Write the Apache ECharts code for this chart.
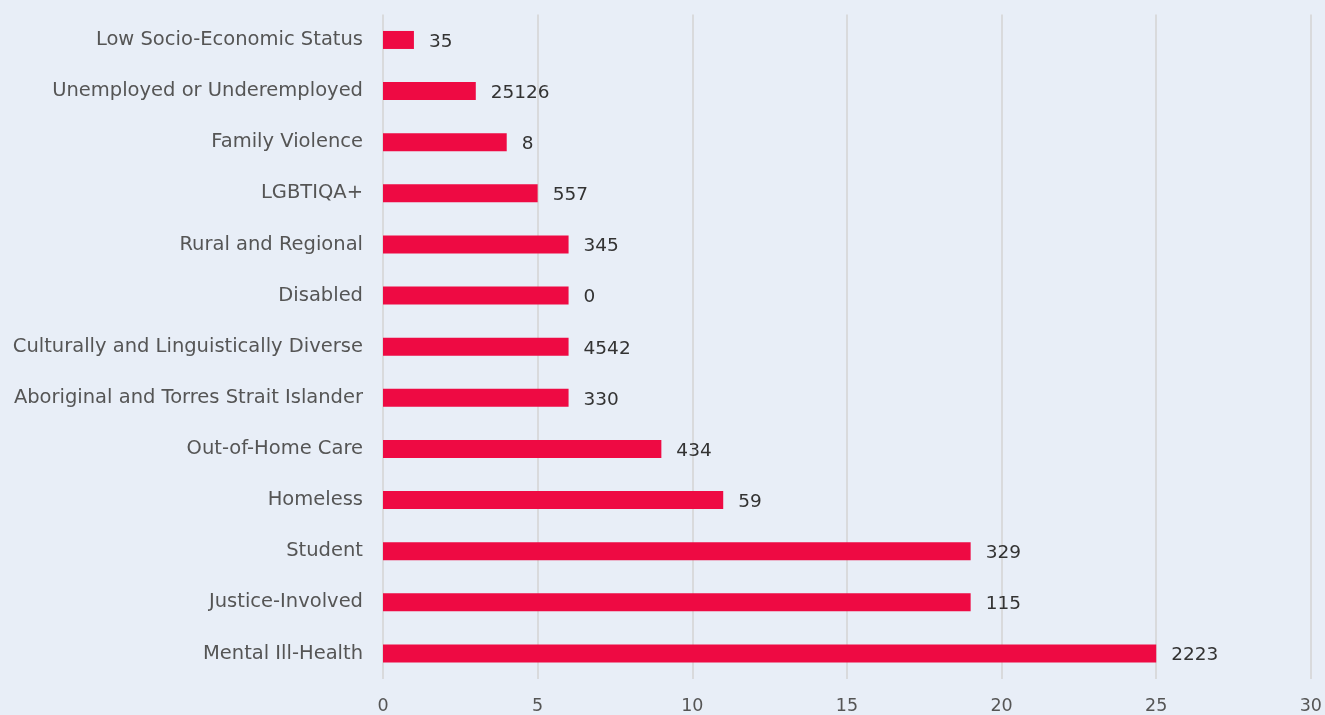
<!DOCTYPE html>
<html><head><meta charset="utf-8">
<script src="https://cdn.jsdelivr.net/npm/echarts@6/dist/echarts.min.js"></script>
<style>html,body{margin:0;padding:0;background:#e8eef7;}#c{width:1325px;height:715px;}</style>
</head><body><div id="c"></div>
<script>
const categories = ["Mental Ill-Health","Justice-Involved","Student","Homeless","Out-of-Home Care","Aboriginal and Torres Strait Islander","Culturally and Linguistically Diverse","Disabled","Rural and Regional","LGBTIQA+","Family Violence","Unemployed or Underemployed","Low Socio-Economic Status"];
const values = [25,19,19,11,9,6,6,6,6,5,4,3,1];
const labels = ["2223","115","329","59","434","330","4542","0","345","557","8","25126","35"];
const xTicks = [0,5,10,15,20,25,30];
const FONT = '"DejaVu Sans", sans-serif';

const chart = echarts.init(document.getElementById('c'));
chart.setOption({
  backgroundColor:'#e8eef7',
  animation:false,
  grid:{left:383,right:14,top:14.4,bottom:35},
  xAxis:{type:'value',min:xTicks[0],max:xTicks[xTicks.length-1],interval:5,
    axisLine:{show:false},axisTick:{show:false},
    splitLine:{lineStyle:{color:'#d9dadc',width:2}},
    axisLabel:{color:'#555',fontSize:17.5,fontFamily:FONT,margin:18}},
  yAxis:{type:'category',data:categories,
    axisLine:{show:false},axisTick:{show:false},
    axisLabel:{color:'#555',fontSize:19.5,fontFamily:FONT,margin:20,padding:[4,0,0,0]}},
  series:[{type:'bar',data:values,barWidth:18,itemStyle:{color:'#ee0a43'},
    label:{show:true,position:'right',distance:15,color:'#333',fontSize:18.5,fontFamily:FONT,offset:[0,2],
      formatter:p=>labels[p.dataIndex]}}]
});
</script></body></html>
